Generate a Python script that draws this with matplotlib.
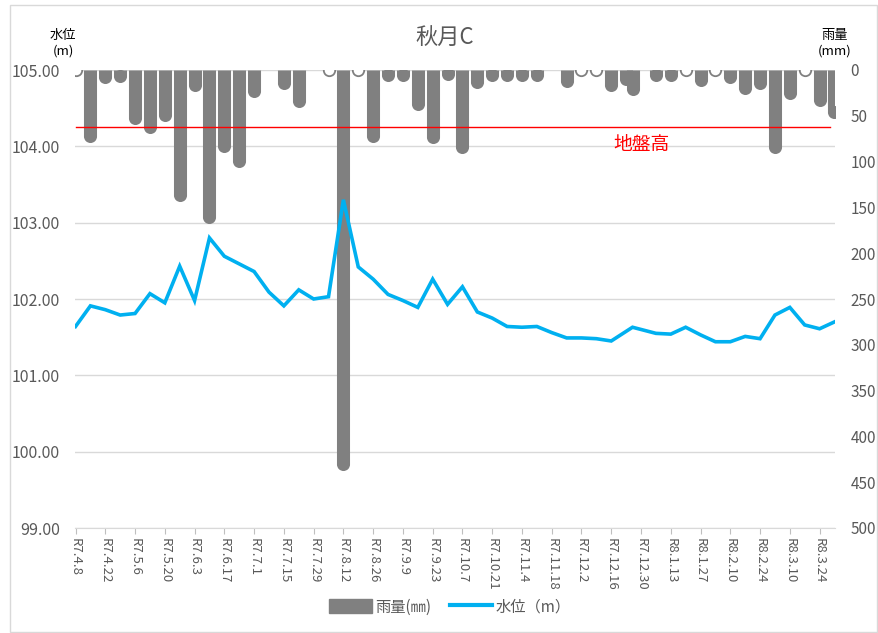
import numpy as np
import pandas as pd
import matplotlib
matplotlib.use('Agg')
import matplotlib.pyplot as plt
from matplotlib.lines import Line2D
from matplotlib.patches import Patch, Rectangle

plt.rcParams['font.family'] = ['Noto Sans CJK JP', 'DejaVu Sans']

# observation dates (weekly, with the year-end shift)
dates = ['2025-04-08', '2025-04-15', '2025-04-22', '2025-04-29', '2025-05-06',
         '2025-05-13', '2025-05-20', '2025-05-27', '2025-06-03', '2025-06-10',
         '2025-06-17', '2025-06-24', '2025-07-01', '2025-07-08', '2025-07-15',
         '2025-07-22', '2025-07-29', '2025-08-05', '2025-08-12', '2025-08-19',
         '2025-08-26', '2025-09-02', '2025-09-09', '2025-09-16', '2025-09-23',
         '2025-09-30', '2025-10-07', '2025-10-14', '2025-10-21', '2025-10-28',
         '2025-11-04', '2025-11-11', '2025-11-18', '2025-11-25', '2025-12-02',
         '2025-12-09', '2025-12-16', '2025-12-23', '2025-12-26', '2026-01-06',
         '2026-01-13', '2026-01-20', '2026-01-27', '2026-02-03', '2026-02-10',
         '2026-02-17', '2026-02-24', '2026-03-03', '2026-03-10', '2026-03-17',
         '2026-03-24', '2026-03-31']

# rain (mm), None = no record
rain = [0, 72, 8, 7, 52, 62, 49, 136, 16, 160,
        83, 99, 23, None, 14, 34, None, 0, 430, 0,
        72, 6, 6, 37, 73, 4, 84, 13, 6, 6,
        6, 6, None, 12, 0, 0, 16, 10, 21, 6,
        6, 0, 11, 0, 8, 20, 14, 84, 25, 0,
        33, 46]

# water level (m), None = not measured
level = [101.64, 101.91, 101.86, 101.79, 101.81, 102.07, 101.95, 102.43, 101.98, 102.80,
         102.56, 102.46, 102.36, 102.09, 101.91, 102.12, 102.00, 102.03, 103.30, 102.42,
         102.26, 102.06, 101.98, 101.89, 102.26, 101.93, 102.16, 101.83, 101.75, 101.64,
         101.63, 101.64, 101.56, 101.49, 101.49, 101.48, 101.45, None, 101.63, 101.55,
         101.54, 101.63, 101.53, 101.44, 101.44, 101.51, 101.48, 101.79, 101.89, 101.66,
         101.61, 101.70]

ground = 104.25

tick_dates = ['2025-04-08', '2025-04-22', '2025-05-06', '2025-05-20', '2025-06-03',
              '2025-06-17', '2025-07-01', '2025-07-15', '2025-07-29', '2025-08-12',
              '2025-08-26', '2025-09-09', '2025-09-23', '2025-10-07', '2025-10-21',
              '2025-11-04', '2025-11-18', '2025-12-02', '2025-12-16', '2025-12-30',
              '2026-01-13', '2026-01-27', '2026-02-10', '2026-02-24', '2026-03-10',
              '2026-03-24']
tick_labels = ['R7.4.8', 'R7.4.22', 'R7.5.6', 'R7.5.20', 'R7.6.3', 'R7.6.17',
               'R7.7.1', 'R7.7.15', 'R7.7.29', 'R7.8.12', 'R7.8.26', 'R7.9.9',
               'R7.9.23', 'R7.10.7', 'R7.10.21', 'R7.11.4', 'R7.11.18', 'R7.12.2',
               'R7.12.16', 'R7.12.30', 'R8.1.13', 'R8.1.27', 'R8.2.10', 'R8.2.24',
               'R8.3.10', 'R8.3.24']

grey_txt = '#595959'
bar_col = '#808080'
line_col = '#00B0F0'

d = pd.to_datetime(dates)
W, H = 879, 633
fig = plt.figure(figsize=(W / 100, H / 100), dpi=100)
ax = fig.add_axes([75 / W, 1 - 528 / H, 760 / W, 458 / H])
ax2 = ax.twinx()

# left axis: water level, grid behind everything
ax.set_ylim(99, 105)
ax.set_yticks(np.arange(99, 105.01, 1))
ax.set_yticklabels(['%.2f' % v for v in np.arange(99, 105.01, 1)])
ax.grid(axis='y', color='#d9d9d9', linewidth=1)
ax.set_axisbelow(True)
ax.set_xlim(d[0] - pd.Timedelta(hours=6), d[-1] + pd.Timedelta(hours=6))
ax.set_xticks(pd.to_datetime(tick_dates))
ax.set_xticklabels(tick_labels, rotation=-90, fontsize=9.5, color=grey_txt)
ax.tick_params(axis='x', length=4, color='#bfbfbf', pad=3)
ax.tick_params(axis='y', length=0, labelsize=11.5, labelcolor=grey_txt, pad=11)
for s in ['top', 'left', 'right']:
    ax.spines[s].set_visible(False)
ax.spines['bottom'].set_color('#d9d9d9')

# right axis: rain, inverted
ax2.set_ylim(500, 0)
ax2.set_yticks(np.arange(0, 501, 50))
ax2.tick_params(axis='y', length=0, labelsize=11, labelcolor=grey_txt, pad=11)
for s in ['top', 'left', 'right', 'bottom']:
    ax2.spines[s].set_visible(False)

# rain bars with rounded ends (bar + round cap marker)
rd = [x for x, r in zip(d, rain) if r is not None]
rv = np.array([r for r in rain if r is not None], dtype=float)
pos = rv > 0
ax2.vlines(rd, 0, rv, colors=bar_col, linewidth=9.4, zorder=2)
ax2.plot([x for x, p in zip(rd, pos) if p], rv[pos], 'o', markersize=9.4,
         color=bar_col, markeredgewidth=0, zorder=2)
# zero-rain weeks show as hollow caps
ax2.plot([x for x, p in zip(rd, pos) if not p], rv[~pos], 'o', markersize=8.2,
         markerfacecolor='white', markeredgecolor=bar_col, markeredgewidth=1.3,
         zorder=2)

# water level line drawn above the bars, in left-axis coordinates
ld = [x for x, v in zip(d, level) if v is not None]
lv = [v for v in level if v is not None]
ax2.plot(ld, lv, color=line_col, linewidth=2.6, transform=ax.transData,
         zorder=4, solid_joinstyle='miter')

ax2.plot([d[0], d[-1] - pd.Timedelta(days=2)], [ground, ground], color='#FF0000',
         linewidth=1, transform=ax.transData, zorder=3)
ax2.text(pd.Timestamp('2025-12-30'), 104.02, '地盤高', color='#FF0000', fontsize=13.5,
         ha='center', va='center', transform=ax.transData, zorder=5)
ax2.set_ylim(500, 0)

fig.text(445 / W, 1 - 38 / H, '秋月C', ha='center', va='center', fontsize=16,
         color=grey_txt)
fig.text(63 / W, 1 - 43 / H, '水位\n(m)', ha='center', va='center', fontsize=9.5,
         color='black', linespacing=1.3)
fig.text(835 / W, 1 - 43 / H, '雨量\n(mm)', ha='center', va='center', fontsize=9.5,
         color='black', linespacing=1.3)

handles = [Patch(facecolor=bar_col, edgecolor=bar_col),
           Line2D([], [], color=line_col, linewidth=3)]
fig.legend(handles, ['雨量(㎜)', '水位（m）'], loc='center', ncol=2,
           bbox_to_anchor=(450 / W, 1 - 607 / H), frameon=False, fontsize=11,
           labelcolor=grey_txt, handlelength=2.8, handleheight=1.0,
           columnspacing=1.2, handletextpad=0.2)

fig.patches.append(Rectangle((10 / W, 1 / H), 867 / W, 627 / H, transform=fig.transFigure,
                             fill=False, edgecolor='#d9d9d9', linewidth=1))

fig.savefig('out.png', dpi=100, facecolor='white')
